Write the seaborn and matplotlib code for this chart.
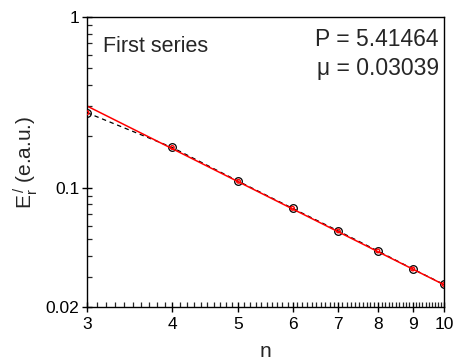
import numpy as np
import pandas as pd
import matplotlib
matplotlib.use("Agg")
import matplotlib.pyplot as plt
import matplotlib.ticker as mticker
import seaborn as sns

# ---- data ----
n_vals = [3, 4, 5, 6, 7, 8, 9, 10]
E_vals = [0.275, 0.172, 0.109, 0.0757, 0.0558, 0.0426, 0.0334, 0.0271]
fit_n = [3, 10]
fit_E = [0.301, 0.0270]
x_ticks = [3, 4, 5, 6, 7, 8, 9, 10]
x_ticklabels = ["3", "4", "5", "6", "7", "8", "9", "10"]
y_ticks = [0.02, 0.1, 1]
y_ticklabels = ["0.02", "0.1", "1"]
series_label = "First series"
param_text = "P = 5.41464\nμ = 0.03039"

sns.set_style("ticks")
plt.rcParams["font.family"] = ["Liberation Sans", "DejaVu Sans"]
plt.rcParams["mathtext.fontset"] = "custom"
plt.rcParams["mathtext.rm"] = "Liberation Sans"
plt.rcParams["mathtext.it"] = "Liberation Sans"

data = pd.DataFrame({"n": n_vals, "E": E_vals})
fit = pd.DataFrame({"n": fit_n, "E": fit_E})

fig = plt.figure(figsize=(4.53, 3.62), dpi=100)
ax = fig.add_axes([87/453, 1-307/362, (444-87)/453, (307-17)/362])

ax.set_xscale("log")
ax.set_yscale("log")

sns.lineplot(data=data, x="n", y="E", ax=ax, color="black", linestyle=(0, (3.5, 3)),
             linewidth=0.9, marker="o", markersize=5.5, markerfacecolor="none",
             markeredgecolor="black", markeredgewidth=0.9)
sns.lineplot(data=fit, x="n", y="E", ax=ax, color="red", linewidth=1.1)
sns.scatterplot(data=data, x="n", y="E", ax=ax, s=7, facecolor="none",
                edgecolor="red", linewidth=1.0, zorder=5)

ax.set_xlim(3, 10)
ax.set_ylim(0.02, 1)

ax.xaxis.set_major_locator(mticker.FixedLocator(x_ticks))
ax.xaxis.set_major_formatter(mticker.FixedFormatter(x_ticklabels))
ax.xaxis.set_minor_locator(mticker.FixedLocator(
    [v for v in np.arange(3.0, 10.0, 0.1) if abs(v - round(v)) > 1e-6]))
ax.xaxis.set_minor_formatter(mticker.NullFormatter())

ax.yaxis.set_major_locator(mticker.FixedLocator(y_ticks))
ax.yaxis.set_major_formatter(mticker.FixedFormatter(y_ticklabels))
ax.yaxis.set_minor_locator(mticker.LogLocator(base=10, subs=np.arange(2, 10)))
ax.yaxis.set_minor_formatter(mticker.NullFormatter())

ax.tick_params(which="major", direction="inout", length=7, width=1.0,
               labelsize=12.5, colors="black")
ax.tick_params(axis="x", which="major", pad=4)
ax.tick_params(axis="y", which="major", pad=2)
ax.tick_params(which="minor", direction="in", length=3.5, width=0.9)
ax.tick_params(top=False, right=False)
for s in ax.spines.values():
    s.set_linewidth(1.0)
    s.set_color("black")

ax.set_xlabel("n", fontsize=15, labelpad=7)
ax.set_ylabel(r"E$_r^{\,/}$ (e.a.u.)", fontsize=15, labelpad=4)

ax.text(0.045, 0.935, series_label, transform=ax.transAxes, fontsize=15.5,
        ha="left", va="top")
ax.text(0.985, 0.963, param_text, transform=ax.transAxes, fontsize=16.5,
        ha="right", va="top", linespacing=1.35)

fig.savefig("out.png", dpi=100)
